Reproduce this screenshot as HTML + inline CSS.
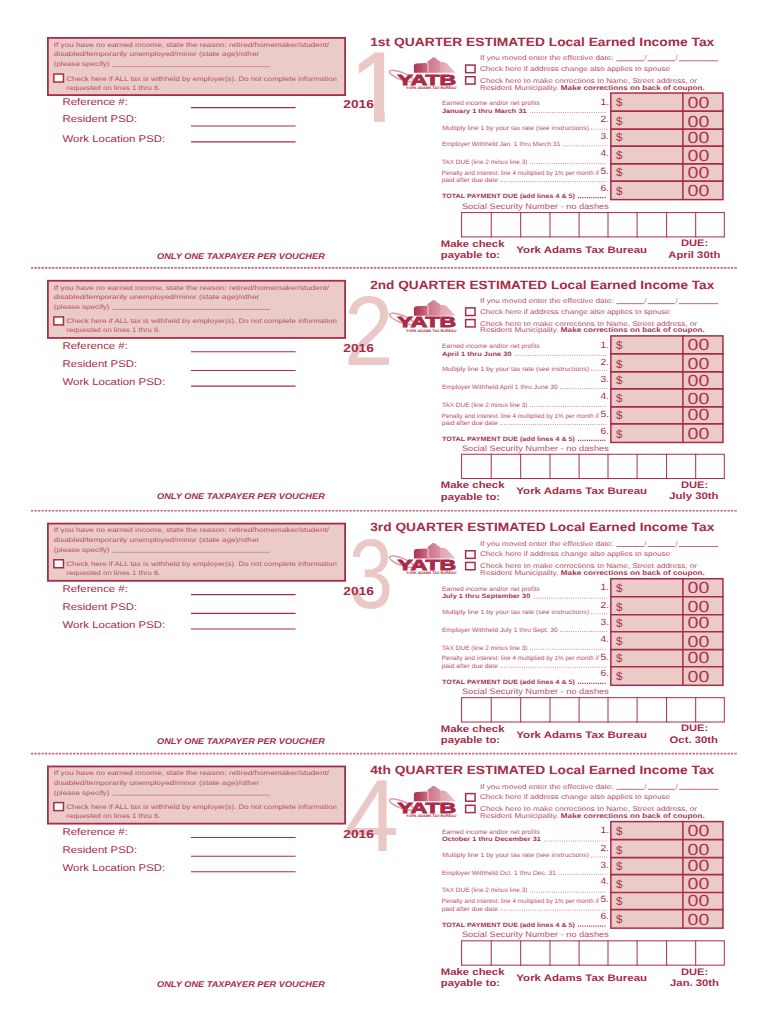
<!DOCTYPE html>
<html><head><meta charset="utf-8"><title>York Adams Tax Bureau - Quarterly Estimated Vouchers</title>
<style>
html,body{margin:0;padding:0;background:#fff;}
body{width:770px;height:1024px;overflow:hidden;}
svg{display:block;text-rendering:geometricPrecision;}
</style></head><body>
<svg width="770" height="1024" viewBox="0 0 770 1024" font-family="'Liberation Sans', Arial, sans-serif" fill="#a92b48">
<defs>
<linearGradient id="lg1" x1="0" x2="1" y1="0" y2="0"><stop offset="0" stop-color="#ad3452"/><stop offset="0.45" stop-color="#b84a66"/><stop offset="1" stop-color="#cd788c"/></linearGradient>
<linearGradient id="lg2" x1="0" x2="1" y1="0" y2="0"><stop offset="0" stop-color="#cc7288"/><stop offset="1" stop-color="#d9939f"/></linearGradient>
<linearGradient id="lg3" x1="0" x2="1" y1="0" y2="0"><stop offset="0" stop-color="#dfa3b0"/><stop offset="1" stop-color="#ebc0c8"/></linearGradient>
<clipPath id="clip1"><path d="M330 40 H400 V112.4 H384.75 V125 H374.05 V112.4 H330 Z"/></clipPath></defs>
<g transform="translate(0 0.00)">
<text x="350.1" y="121.15" font-size="98.5" fill="#e9c8c6" stroke="#e9c8c6" stroke-width="1.3" clip-path="url(#clip1)">1</text>
<rect x="47.90" y="37.90" width="297.20" height="57.20" fill="#eacbc8" stroke="#a92b48" stroke-width="1.8"/>
<text x="53.80" y="46.70" font-size="6.5" fill="#b84d68" textLength="275.20" lengthAdjust="spacingAndGlyphs" >If you have no earned income, state the reason: retired/homemaker/student/</text>
<text x="53.80" y="56.40" font-size="6.5" fill="#b84d68" textLength="205.40" lengthAdjust="spacingAndGlyphs" >disabled/temporarily unemployed/minor (state age)/other</text>
<text x="53.80" y="66.20" font-size="6.5" fill="#b84d68" textLength="55.70" lengthAdjust="spacingAndGlyphs" >(please specify)</text>
<line x1="112.30" y1="66.60" x2="270.00" y2="66.60" stroke="#c06078" stroke-width="0.6" />
<rect x="53.85" y="74.05" width="9.60" height="8.00" fill="#ffffff" stroke="#a92b48" stroke-width="1.5"/>
<text x="66.40" y="80.50" font-size="6.5" fill="#b84d68" textLength="270.50" lengthAdjust="spacingAndGlyphs" >Check here if ALL tax is withheld by employer(s). Do not complete information</text>
<text x="66.40" y="89.60" font-size="6.5" fill="#b84d68" textLength="94.10" lengthAdjust="spacingAndGlyphs" >requested on lines 1 thru 6.</text>
<text x="62.50" y="104.80" font-size="9.8" textLength="65.40" lengthAdjust="spacingAndGlyphs" >Reference #:</text>
<text x="62.50" y="121.60" font-size="9.8" textLength="74.60" lengthAdjust="spacingAndGlyphs" >Resident PSD:</text>
<text x="62.50" y="142.20" font-size="9.8" textLength="102.80" lengthAdjust="spacingAndGlyphs" >Work Location PSD:</text>
<line x1="190.90" y1="107.60" x2="295.60" y2="107.60" stroke="#a92b48" stroke-width="1.1" />
<line x1="190.90" y1="126.00" x2="295.60" y2="126.00" stroke="#a92b48" stroke-width="1.1" />
<line x1="190.90" y1="141.90" x2="295.60" y2="141.90" stroke="#a92b48" stroke-width="1.1" />
<text x="157.00" y="258.80" font-size="8.4" font-weight="bold" font-style="italic" fill="#a92b48" textLength="167.80" lengthAdjust="spacingAndGlyphs" >ONLY ONE TAXPAYER PER VOUCHER</text>
<text x="343.30" y="107.70" font-size="11.6" font-weight="bold" textLength="30.60" lengthAdjust="spacingAndGlyphs" >2016</text>
<text x="370.20" y="45.80" font-size="12" font-weight="bold" textLength="344.10" lengthAdjust="spacingAndGlyphs" >1st QUARTER ESTIMATED Local Earned Income Tax</text>

<g>
 <ellipse cx="401.5" cy="76" rx="12.8" ry="3.6" transform="rotate(21 401.5 76)" fill="none" stroke="#dc9aaa" stroke-width="1.5"/>
 <path d="M413.9 72.8 L413.9 65.2 Q414.2 63.6 416.5 63.4 L425.5 62.9 Q428.6 63.1 428.8 66 L428.8 72.8 Z" fill="url(#lg1)"/>
 <path d="M427.6 72.8 L427.6 61.2 Q430.5 59.8 432.5 57.4 Q435.5 57 437.5 59.8 L440.2 61.2 L440.2 72.8 Z" fill="url(#lg2)"/>
 <path d="M439.8 72.8 L439.8 62.3 Q443.5 61.5 446.5 63.2 L455.6 72.8 Z" fill="url(#lg3)"/>
 <path d="M428.3 72.6 Q427.6 68 428.4 63.4" fill="none" stroke="#fff" stroke-width="0.7"/>
 <text x="397.6" y="84.5" font-size="14.6" font-weight="bold" textLength="58.6" lengthAdjust="spacingAndGlyphs" fill="#a92b48" stroke="#a92b48" stroke-width="0.9">YATB</text>
 <text x="406" y="88.7" font-size="3.5" font-weight="bold" textLength="50.4" lengthAdjust="spacingAndGlyphs" fill="#a92b48">YORK ADAMS TAX BUREAU</text>
</g>

<text x="480.00" y="60.20" font-size="6.8" fill="#b84d68" textLength="133.50" lengthAdjust="spacingAndGlyphs" >If you moved enter the effective date:</text>
<line x1="616.40" y1="60.80" x2="644.30" y2="60.80" stroke="#a92b48" stroke-width="0.7" />
<text x="644.60" y="60.40" font-size="6.8" fill="#b84d68" >/</text>
<line x1="647.60" y1="60.80" x2="675.20" y2="60.80" stroke="#a92b48" stroke-width="0.7" />
<text x="675.70" y="60.40" font-size="6.8" fill="#b84d68" >/</text>
<line x1="679.00" y1="60.80" x2="718.20" y2="60.80" stroke="#a92b48" stroke-width="0.7" />
<rect x="465.65" y="65.05" width="9.40" height="7.60" fill="none" stroke="#a92b48" stroke-width="1.5"/>
<text x="480.00" y="70.80" font-size="6.8" fill="#b84d68" textLength="190.10" lengthAdjust="spacingAndGlyphs" >Check here if address change also applies to spouse</text>
<rect x="465.65" y="76.75" width="9.40" height="7.30" fill="none" stroke="#a92b48" stroke-width="1.5"/>
<text x="480.00" y="82.70" font-size="6.8" fill="#b84d68" textLength="217.10" lengthAdjust="spacingAndGlyphs" >Check here to make corrections to Name, Street address, or</text>
<text x="480.00" y="89.60" font-size="6.8" fill="#b84d68" textLength="224.70" lengthAdjust="spacingAndGlyphs" >Resident Municipality. <tspan font-weight="bold" fill="#a83350">Make corrections on back of coupon.</tspan></text>
<text x="441.90" y="105.00" font-size="6.3" fill="#b84d68" textLength="98.00" lengthAdjust="spacingAndGlyphs" >Earned income and/or net profits</text>
<text x="441.90" y="112.80" font-size="6.3" font-weight="bold" fill="#a83350" textLength="84.70" lengthAdjust="spacingAndGlyphs" >January 1 thru March 31</text>
<line x1="530.10" y1="112.50" x2="607.00" y2="112.50" stroke="#a92b48" stroke-width="0.8" stroke-dasharray="0.8 1.4" opacity="0.8"/>
<text x="442.20" y="129.60" font-size="6.3" fill="#b84d68" textLength="146.80" lengthAdjust="spacingAndGlyphs" >Multiply line 1 by your tax rate (see instructions)</text>
<line x1="591.00" y1="129.20" x2="608.00" y2="129.20" stroke="#a92b48" stroke-width="0.8" stroke-dasharray="0.8 1.4" opacity="0.8"/>
<text x="441.90" y="146.30" font-size="6.3" fill="#b84d68" textLength="118.50" lengthAdjust="spacingAndGlyphs" >Employer Withheld Jan. 1 thru March 31</text>
<line x1="563.00" y1="145.80" x2="607.40" y2="145.80" stroke="#a92b48" stroke-width="0.8" stroke-dasharray="0.8 1.4" opacity="0.8"/>
<text x="441.90" y="163.90" font-size="6.3" fill="#b84d68" textLength="85.50" lengthAdjust="spacingAndGlyphs" >TAX DUE (line 2 minus line 3)</text>
<line x1="530.00" y1="163.60" x2="606.60" y2="163.60" stroke="#a92b48" stroke-width="0.8" stroke-dasharray="0.8 1.4" opacity="0.8"/>
<text x="441.70" y="174.70" font-size="6.3" fill="#b84d68" textLength="157.10" lengthAdjust="spacingAndGlyphs" >Penalty and interest: line 4 multiplied by 1% per month if</text>
<text x="441.70" y="182.20" font-size="6.3" fill="#b84d68" textLength="56.30" lengthAdjust="spacingAndGlyphs" >paid after due date</text>
<line x1="500.00" y1="181.60" x2="607.00" y2="181.60" stroke="#a92b48" stroke-width="0.8" stroke-dasharray="0.8 1.4" opacity="0.8"/>
<text x="441.90" y="198.00" font-size="6.3" font-weight="bold" fill="#a83350" textLength="133.10" lengthAdjust="spacingAndGlyphs" >TOTAL PAYMENT DUE (add lines 4 &amp; 5)</text>
<line x1="578.00" y1="197.60" x2="606.60" y2="197.60" stroke="#a92b48" stroke-width="1.3" stroke-dasharray="1.1 1.1"/>
<text x="600.60" y="104.80" font-size="9.0" textLength="8.60" lengthAdjust="spacingAndGlyphs" >1.</text>
<text x="600.60" y="122.00" font-size="9.0" textLength="8.60" lengthAdjust="spacingAndGlyphs" >2.</text>
<text x="600.60" y="139.10" font-size="9.0" textLength="8.60" lengthAdjust="spacingAndGlyphs" >3.</text>
<text x="600.60" y="155.90" font-size="9.0" textLength="8.60" lengthAdjust="spacingAndGlyphs" >4.</text>
<text x="600.60" y="173.90" font-size="9.0" textLength="8.60" lengthAdjust="spacingAndGlyphs" >5.</text>
<text x="600.60" y="190.80" font-size="9.0" textLength="8.60" lengthAdjust="spacingAndGlyphs" >6.</text>
<rect x="610.85" y="93.05" width="112.10" height="106.30" fill="#eacbc8"/>
<line x1="610.10" y1="111.05" x2="723.70" y2="111.05" stroke="#a92b48" stroke-width="1.7" />
<line x1="610.10" y1="129.05" x2="723.70" y2="129.05" stroke="#a92b48" stroke-width="1.7" />
<line x1="610.10" y1="146.05" x2="723.70" y2="146.05" stroke="#a92b48" stroke-width="1.7" />
<line x1="610.10" y1="163.95" x2="723.70" y2="163.95" stroke="#a92b48" stroke-width="1.7" />
<line x1="610.10" y1="181.05" x2="723.70" y2="181.05" stroke="#a92b48" stroke-width="1.7" />
<rect x="610.85" y="93.05" width="112.10" height="106.55" fill="none" stroke="#a92b48" stroke-width="1.5"/>
<line x1="682.90" y1="92.30" x2="682.90" y2="200.30" stroke="#a92b48" stroke-width="1.5" />
<text x="616.00" y="106.00" font-size="11.4" fill="#ad3450" textLength="6.60" lengthAdjust="spacingAndGlyphs" >$</text>
<text x="687.60" y="107.50" font-size="16" fill="#ad3450" textLength="21.80" lengthAdjust="spacingAndGlyphs" >00</text>
<text x="616.00" y="125.00" font-size="11.4" fill="#ad3450" textLength="6.60" lengthAdjust="spacingAndGlyphs" >$</text>
<text x="687.60" y="126.50" font-size="16" fill="#ad3450" textLength="21.80" lengthAdjust="spacingAndGlyphs" >00</text>
<text x="616.00" y="141.30" font-size="11.4" fill="#ad3450" textLength="6.60" lengthAdjust="spacingAndGlyphs" >$</text>
<text x="687.60" y="142.80" font-size="16" fill="#ad3450" textLength="21.80" lengthAdjust="spacingAndGlyphs" >00</text>
<text x="616.00" y="159.40" font-size="11.4" fill="#ad3450" textLength="6.60" lengthAdjust="spacingAndGlyphs" >$</text>
<text x="687.60" y="160.90" font-size="16" fill="#ad3450" textLength="21.80" lengthAdjust="spacingAndGlyphs" >00</text>
<text x="616.00" y="176.00" font-size="11.4" fill="#ad3450" textLength="6.60" lengthAdjust="spacingAndGlyphs" >$</text>
<text x="687.60" y="177.50" font-size="16" fill="#ad3450" textLength="21.80" lengthAdjust="spacingAndGlyphs" >00</text>
<text x="616.00" y="194.70" font-size="11.4" fill="#ad3450" textLength="6.60" lengthAdjust="spacingAndGlyphs" >$</text>
<text x="687.60" y="196.20" font-size="16" fill="#ad3450" textLength="21.80" lengthAdjust="spacingAndGlyphs" >00</text>
<g transform="translate(0 0)">
<text x="461.90" y="209.20" font-size="8" fill="#b84d68" textLength="146.90" lengthAdjust="spacingAndGlyphs" >Social Security Number - no dashes</text>
<line x1="461.60" y1="212.60" x2="724.30" y2="212.60" stroke="#a92b48" stroke-width="1" />
<line x1="461.60" y1="236.90" x2="724.30" y2="236.90" stroke="#a92b48" stroke-width="1" />
<line x1="461.60" y1="212.10" x2="461.60" y2="237.40" stroke="#a92b48" stroke-width="1" />
<line x1="491.20" y1="212.10" x2="491.20" y2="237.40" stroke="#a92b48" stroke-width="1" />
<line x1="520.70" y1="212.10" x2="520.70" y2="237.40" stroke="#a92b48" stroke-width="1" />
<line x1="550.00" y1="212.10" x2="550.00" y2="237.40" stroke="#a92b48" stroke-width="1" />
<line x1="579.10" y1="212.10" x2="579.10" y2="237.40" stroke="#a92b48" stroke-width="1" />
<line x1="608.00" y1="212.10" x2="608.00" y2="237.40" stroke="#a92b48" stroke-width="1" />
<line x1="637.10" y1="212.10" x2="637.10" y2="237.40" stroke="#a92b48" stroke-width="1" />
<line x1="666.60" y1="212.10" x2="666.60" y2="237.40" stroke="#a92b48" stroke-width="1" />
<line x1="695.70" y1="212.10" x2="695.70" y2="237.40" stroke="#a92b48" stroke-width="1" />
<line x1="724.30" y1="212.10" x2="724.30" y2="237.40" stroke="#a92b48" stroke-width="1" />
<text x="440.80" y="246.50" font-size="9.5" font-weight="bold" textLength="63.70" lengthAdjust="spacingAndGlyphs" >Make check</text>
<text x="440.80" y="257.90" font-size="9.5" font-weight="bold" textLength="59.20" lengthAdjust="spacingAndGlyphs" >payable to:</text>
<text x="516.30" y="252.70" font-size="9.5" font-weight="bold" textLength="130.80" lengthAdjust="spacingAndGlyphs" >York Adams Tax Bureau</text>
<text x="680.90" y="246.40" font-size="9.5" font-weight="bold" textLength="27.30" lengthAdjust="spacingAndGlyphs" >DUE:</text>
<text x="668.30" y="257.60" font-size="9.5" font-weight="bold" textLength="52.00" lengthAdjust="spacingAndGlyphs" >April 30th</text>
</g>
</g>
<g transform="translate(0 242.85)">
<text transform="matrix(0.898 0 0 1 343.9 0)" x="0" y="121.8" font-size="99" fill="#e9c8c6">2</text>
<rect x="47.90" y="37.90" width="297.20" height="57.20" fill="#eacbc8" stroke="#a92b48" stroke-width="1.8"/>
<text x="53.80" y="46.70" font-size="6.5" fill="#b84d68" textLength="275.20" lengthAdjust="spacingAndGlyphs" >If you have no earned income, state the reason: retired/homemaker/student/</text>
<text x="53.80" y="56.40" font-size="6.5" fill="#b84d68" textLength="205.40" lengthAdjust="spacingAndGlyphs" >disabled/temporarily unemployed/minor (state age)/other</text>
<text x="53.80" y="66.20" font-size="6.5" fill="#b84d68" textLength="55.70" lengthAdjust="spacingAndGlyphs" >(please specify)</text>
<line x1="112.30" y1="66.60" x2="270.00" y2="66.60" stroke="#c06078" stroke-width="0.6" />
<rect x="53.85" y="74.05" width="9.60" height="8.00" fill="#ffffff" stroke="#a92b48" stroke-width="1.5"/>
<text x="66.40" y="80.50" font-size="6.5" fill="#b84d68" textLength="270.50" lengthAdjust="spacingAndGlyphs" >Check here if ALL tax is withheld by employer(s). Do not complete information</text>
<text x="66.40" y="89.60" font-size="6.5" fill="#b84d68" textLength="94.10" lengthAdjust="spacingAndGlyphs" >requested on lines 1 thru 6.</text>
<text x="62.50" y="105.90" font-size="9.8" textLength="65.40" lengthAdjust="spacingAndGlyphs" >Reference #:</text>
<text x="62.50" y="124.60" font-size="9.8" textLength="74.60" lengthAdjust="spacingAndGlyphs" >Resident PSD:</text>
<text x="62.50" y="142.10" font-size="9.8" textLength="102.80" lengthAdjust="spacingAndGlyphs" >Work Location PSD:</text>
<line x1="190.90" y1="108.95" x2="295.60" y2="108.95" stroke="#a92b48" stroke-width="1.1" />
<line x1="190.90" y1="127.65" x2="295.60" y2="127.65" stroke="#a92b48" stroke-width="1.1" />
<line x1="190.90" y1="143.25" x2="295.60" y2="143.25" stroke="#a92b48" stroke-width="1.1" />
<text x="157.00" y="256.60" font-size="8.4" font-weight="bold" font-style="italic" fill="#a92b48" textLength="167.80" lengthAdjust="spacingAndGlyphs" >ONLY ONE TAXPAYER PER VOUCHER</text>
<text x="343.30" y="108.90" font-size="11.6" font-weight="bold" textLength="30.60" lengthAdjust="spacingAndGlyphs" >2016</text>
<text x="370.20" y="45.80" font-size="12" font-weight="bold" textLength="344.10" lengthAdjust="spacingAndGlyphs" >2nd QUARTER ESTIMATED Local Earned Income Tax</text>

<g>
 <ellipse cx="401.5" cy="76" rx="12.8" ry="3.6" transform="rotate(21 401.5 76)" fill="none" stroke="#dc9aaa" stroke-width="1.5"/>
 <path d="M413.9 72.8 L413.9 65.2 Q414.2 63.6 416.5 63.4 L425.5 62.9 Q428.6 63.1 428.8 66 L428.8 72.8 Z" fill="url(#lg1)"/>
 <path d="M427.6 72.8 L427.6 61.2 Q430.5 59.8 432.5 57.4 Q435.5 57 437.5 59.8 L440.2 61.2 L440.2 72.8 Z" fill="url(#lg2)"/>
 <path d="M439.8 72.8 L439.8 62.3 Q443.5 61.5 446.5 63.2 L455.6 72.8 Z" fill="url(#lg3)"/>
 <path d="M428.3 72.6 Q427.6 68 428.4 63.4" fill="none" stroke="#fff" stroke-width="0.7"/>
 <text x="397.6" y="84.5" font-size="14.6" font-weight="bold" textLength="58.6" lengthAdjust="spacingAndGlyphs" fill="#a92b48" stroke="#a92b48" stroke-width="0.9">YATB</text>
 <text x="406" y="88.7" font-size="3.5" font-weight="bold" textLength="50.4" lengthAdjust="spacingAndGlyphs" fill="#a92b48">YORK ADAMS TAX BUREAU</text>
</g>

<text x="480.00" y="60.20" font-size="6.8" fill="#b84d68" textLength="133.50" lengthAdjust="spacingAndGlyphs" >If you moved enter the effective date:</text>
<line x1="616.40" y1="60.80" x2="644.30" y2="60.80" stroke="#a92b48" stroke-width="0.7" />
<text x="644.60" y="60.40" font-size="6.8" fill="#b84d68" >/</text>
<line x1="647.60" y1="60.80" x2="675.20" y2="60.80" stroke="#a92b48" stroke-width="0.7" />
<text x="675.70" y="60.40" font-size="6.8" fill="#b84d68" >/</text>
<line x1="679.00" y1="60.80" x2="718.20" y2="60.80" stroke="#a92b48" stroke-width="0.7" />
<rect x="465.65" y="65.05" width="9.40" height="7.60" fill="none" stroke="#a92b48" stroke-width="1.5"/>
<text x="480.00" y="70.80" font-size="6.8" fill="#b84d68" textLength="190.10" lengthAdjust="spacingAndGlyphs" >Check here if address change also applies to spouse</text>
<rect x="465.65" y="76.75" width="9.40" height="7.30" fill="none" stroke="#a92b48" stroke-width="1.5"/>
<text x="480.00" y="82.70" font-size="6.8" fill="#b84d68" textLength="217.10" lengthAdjust="spacingAndGlyphs" >Check here to make corrections to Name, Street address, or</text>
<text x="480.00" y="89.60" font-size="6.8" fill="#b84d68" textLength="224.70" lengthAdjust="spacingAndGlyphs" >Resident Municipality. <tspan font-weight="bold" fill="#a83350">Make corrections on back of coupon.</tspan></text>
<text x="441.90" y="105.00" font-size="6.3" fill="#b84d68" textLength="98.00" lengthAdjust="spacingAndGlyphs" >Earned income and/or net profits</text>
<text x="441.90" y="112.80" font-size="6.3" font-weight="bold" fill="#a83350" textLength="69.70" lengthAdjust="spacingAndGlyphs" >April 1 thru June 30</text>
<line x1="515.10" y1="112.50" x2="607.00" y2="112.50" stroke="#a92b48" stroke-width="0.8" stroke-dasharray="0.8 1.4" opacity="0.8"/>
<text x="442.20" y="127.80" font-size="6.3" fill="#b84d68" textLength="146.80" lengthAdjust="spacingAndGlyphs" >Multiply line 1 by your tax rate (see instructions)</text>
<line x1="591.00" y1="127.40" x2="608.00" y2="127.40" stroke="#a92b48" stroke-width="0.8" stroke-dasharray="0.8 1.4" opacity="0.8"/>
<text x="441.90" y="146.30" font-size="6.3" fill="#b84d68" textLength="115.80" lengthAdjust="spacingAndGlyphs" >Employer Withheld April 1 thru June 30</text>
<line x1="560.30" y1="145.80" x2="607.40" y2="145.80" stroke="#a92b48" stroke-width="0.8" stroke-dasharray="0.8 1.4" opacity="0.8"/>
<text x="441.90" y="163.90" font-size="6.3" fill="#b84d68" textLength="85.50" lengthAdjust="spacingAndGlyphs" >TAX DUE (line 2 minus line 3)</text>
<line x1="530.00" y1="163.60" x2="606.60" y2="163.60" stroke="#a92b48" stroke-width="0.8" stroke-dasharray="0.8 1.4" opacity="0.8"/>
<text x="441.70" y="174.70" font-size="6.3" fill="#b84d68" textLength="157.10" lengthAdjust="spacingAndGlyphs" >Penalty and interest: line 4 multiplied by 1% per month if</text>
<text x="441.70" y="182.20" font-size="6.3" fill="#b84d68" textLength="56.30" lengthAdjust="spacingAndGlyphs" >paid after due date</text>
<line x1="500.00" y1="181.60" x2="607.00" y2="181.60" stroke="#a92b48" stroke-width="0.8" stroke-dasharray="0.8 1.4" opacity="0.8"/>
<text x="441.90" y="198.00" font-size="6.3" font-weight="bold" fill="#a83350" textLength="133.10" lengthAdjust="spacingAndGlyphs" >TOTAL PAYMENT DUE (add lines 4 &amp; 5)</text>
<line x1="578.00" y1="197.60" x2="606.60" y2="197.60" stroke="#a92b48" stroke-width="1.3" stroke-dasharray="1.1 1.1"/>
<text x="600.60" y="104.80" font-size="9.0" textLength="8.60" lengthAdjust="spacingAndGlyphs" >1.</text>
<text x="600.60" y="122.00" font-size="9.0" textLength="8.60" lengthAdjust="spacingAndGlyphs" >2.</text>
<text x="600.60" y="139.10" font-size="9.0" textLength="8.60" lengthAdjust="spacingAndGlyphs" >3.</text>
<text x="600.60" y="155.90" font-size="9.0" textLength="8.60" lengthAdjust="spacingAndGlyphs" >4.</text>
<text x="600.60" y="173.90" font-size="9.0" textLength="8.60" lengthAdjust="spacingAndGlyphs" >5.</text>
<text x="600.60" y="190.80" font-size="9.0" textLength="8.60" lengthAdjust="spacingAndGlyphs" >6.</text>
<rect x="610.85" y="93.05" width="112.10" height="106.30" fill="#eacbc8"/>
<line x1="610.10" y1="111.05" x2="723.70" y2="111.05" stroke="#a92b48" stroke-width="1.7" />
<line x1="610.10" y1="129.05" x2="723.70" y2="129.05" stroke="#a92b48" stroke-width="1.7" />
<line x1="610.10" y1="146.05" x2="723.70" y2="146.05" stroke="#a92b48" stroke-width="1.7" />
<line x1="610.10" y1="163.95" x2="723.70" y2="163.95" stroke="#a92b48" stroke-width="1.7" />
<line x1="610.10" y1="181.05" x2="723.70" y2="181.05" stroke="#a92b48" stroke-width="1.7" />
<rect x="610.85" y="93.05" width="112.10" height="106.55" fill="none" stroke="#a92b48" stroke-width="1.5"/>
<line x1="682.90" y1="92.30" x2="682.90" y2="200.30" stroke="#a92b48" stroke-width="1.5" />
<text x="616.00" y="106.00" font-size="11.4" fill="#ad3450" textLength="6.60" lengthAdjust="spacingAndGlyphs" >$</text>
<text x="687.60" y="107.50" font-size="16" fill="#ad3450" textLength="21.80" lengthAdjust="spacingAndGlyphs" >00</text>
<text x="616.00" y="125.00" font-size="11.4" fill="#ad3450" textLength="6.60" lengthAdjust="spacingAndGlyphs" >$</text>
<text x="687.60" y="126.50" font-size="16" fill="#ad3450" textLength="21.80" lengthAdjust="spacingAndGlyphs" >00</text>
<text x="616.00" y="141.30" font-size="11.4" fill="#ad3450" textLength="6.60" lengthAdjust="spacingAndGlyphs" >$</text>
<text x="687.60" y="142.80" font-size="16" fill="#ad3450" textLength="21.80" lengthAdjust="spacingAndGlyphs" >00</text>
<text x="616.00" y="159.40" font-size="11.4" fill="#ad3450" textLength="6.60" lengthAdjust="spacingAndGlyphs" >$</text>
<text x="687.60" y="160.90" font-size="16" fill="#ad3450" textLength="21.80" lengthAdjust="spacingAndGlyphs" >00</text>
<text x="616.00" y="176.00" font-size="11.4" fill="#ad3450" textLength="6.60" lengthAdjust="spacingAndGlyphs" >$</text>
<text x="687.60" y="177.50" font-size="16" fill="#ad3450" textLength="21.80" lengthAdjust="spacingAndGlyphs" >00</text>
<text x="616.00" y="194.70" font-size="11.4" fill="#ad3450" textLength="6.60" lengthAdjust="spacingAndGlyphs" >$</text>
<text x="687.60" y="196.20" font-size="16" fill="#ad3450" textLength="21.80" lengthAdjust="spacingAndGlyphs" >00</text>
<g transform="translate(0 -1.2)">
<text x="461.90" y="209.20" font-size="8" fill="#b84d68" textLength="146.90" lengthAdjust="spacingAndGlyphs" >Social Security Number - no dashes</text>
<line x1="461.60" y1="212.60" x2="724.30" y2="212.60" stroke="#a92b48" stroke-width="1" />
<line x1="461.60" y1="236.90" x2="724.30" y2="236.90" stroke="#a92b48" stroke-width="1" />
<line x1="461.60" y1="212.10" x2="461.60" y2="237.40" stroke="#a92b48" stroke-width="1" />
<line x1="491.20" y1="212.10" x2="491.20" y2="237.40" stroke="#a92b48" stroke-width="1" />
<line x1="520.70" y1="212.10" x2="520.70" y2="237.40" stroke="#a92b48" stroke-width="1" />
<line x1="550.00" y1="212.10" x2="550.00" y2="237.40" stroke="#a92b48" stroke-width="1" />
<line x1="579.10" y1="212.10" x2="579.10" y2="237.40" stroke="#a92b48" stroke-width="1" />
<line x1="608.00" y1="212.10" x2="608.00" y2="237.40" stroke="#a92b48" stroke-width="1" />
<line x1="637.10" y1="212.10" x2="637.10" y2="237.40" stroke="#a92b48" stroke-width="1" />
<line x1="666.60" y1="212.10" x2="666.60" y2="237.40" stroke="#a92b48" stroke-width="1" />
<line x1="695.70" y1="212.10" x2="695.70" y2="237.40" stroke="#a92b48" stroke-width="1" />
<line x1="724.30" y1="212.10" x2="724.30" y2="237.40" stroke="#a92b48" stroke-width="1" />
<text x="440.80" y="246.50" font-size="9.5" font-weight="bold" textLength="63.70" lengthAdjust="spacingAndGlyphs" >Make check</text>
<text x="440.80" y="257.90" font-size="9.5" font-weight="bold" textLength="59.20" lengthAdjust="spacingAndGlyphs" >payable to:</text>
<text x="516.30" y="252.70" font-size="9.5" font-weight="bold" textLength="130.80" lengthAdjust="spacingAndGlyphs" >York Adams Tax Bureau</text>
<text x="680.90" y="246.40" font-size="9.5" font-weight="bold" textLength="27.30" lengthAdjust="spacingAndGlyphs" >DUE:</text>
<text x="669.20" y="257.60" font-size="9.5" font-weight="bold" textLength="49.40" lengthAdjust="spacingAndGlyphs" >July 30th</text>
</g>
</g>
<g transform="translate(0 485.70)">
<text transform="matrix(0.804 0 0 1 348.8 0)" x="0" y="122.2" font-size="99" fill="#e9c8c6">3</text>
<rect x="47.90" y="37.90" width="297.20" height="57.20" fill="#eacbc8" stroke="#a92b48" stroke-width="1.8"/>
<text x="53.80" y="46.70" font-size="6.5" fill="#b84d68" textLength="275.20" lengthAdjust="spacingAndGlyphs" >If you have no earned income, state the reason: retired/homemaker/student/</text>
<text x="53.80" y="56.40" font-size="6.5" fill="#b84d68" textLength="205.40" lengthAdjust="spacingAndGlyphs" >disabled/temporarily unemployed/minor (state age)/other</text>
<text x="53.80" y="66.20" font-size="6.5" fill="#b84d68" textLength="55.70" lengthAdjust="spacingAndGlyphs" >(please specify)</text>
<line x1="112.30" y1="66.60" x2="270.00" y2="66.60" stroke="#c06078" stroke-width="0.6" />
<rect x="53.85" y="74.05" width="9.60" height="8.00" fill="#ffffff" stroke="#a92b48" stroke-width="1.5"/>
<text x="66.40" y="80.50" font-size="6.5" fill="#b84d68" textLength="270.50" lengthAdjust="spacingAndGlyphs" >Check here if ALL tax is withheld by employer(s). Do not complete information</text>
<text x="66.40" y="89.60" font-size="6.5" fill="#b84d68" textLength="94.10" lengthAdjust="spacingAndGlyphs" >requested on lines 1 thru 6.</text>
<text x="62.50" y="106.00" font-size="9.8" textLength="65.40" lengthAdjust="spacingAndGlyphs" >Reference #:</text>
<text x="62.50" y="124.70" font-size="9.8" textLength="74.60" lengthAdjust="spacingAndGlyphs" >Resident PSD:</text>
<text x="62.50" y="142.20" font-size="9.8" textLength="102.80" lengthAdjust="spacingAndGlyphs" >Work Location PSD:</text>
<line x1="190.90" y1="108.95" x2="295.60" y2="108.95" stroke="#a92b48" stroke-width="1.1" />
<line x1="190.90" y1="127.65" x2="295.60" y2="127.65" stroke="#a92b48" stroke-width="1.1" />
<line x1="190.90" y1="143.25" x2="295.60" y2="143.25" stroke="#a92b48" stroke-width="1.1" />
<text x="157.00" y="258.20" font-size="8.4" font-weight="bold" font-style="italic" fill="#a92b48" textLength="167.80" lengthAdjust="spacingAndGlyphs" >ONLY ONE TAXPAYER PER VOUCHER</text>
<text x="343.30" y="109.10" font-size="11.6" font-weight="bold" textLength="30.60" lengthAdjust="spacingAndGlyphs" >2016</text>
<text x="370.20" y="45.80" font-size="12" font-weight="bold" textLength="344.10" lengthAdjust="spacingAndGlyphs" >3rd QUARTER ESTIMATED Local Earned Income Tax</text>

<g>
 <ellipse cx="401.5" cy="76" rx="12.8" ry="3.6" transform="rotate(21 401.5 76)" fill="none" stroke="#dc9aaa" stroke-width="1.5"/>
 <path d="M413.9 72.8 L413.9 65.2 Q414.2 63.6 416.5 63.4 L425.5 62.9 Q428.6 63.1 428.8 66 L428.8 72.8 Z" fill="url(#lg1)"/>
 <path d="M427.6 72.8 L427.6 61.2 Q430.5 59.8 432.5 57.4 Q435.5 57 437.5 59.8 L440.2 61.2 L440.2 72.8 Z" fill="url(#lg2)"/>
 <path d="M439.8 72.8 L439.8 62.3 Q443.5 61.5 446.5 63.2 L455.6 72.8 Z" fill="url(#lg3)"/>
 <path d="M428.3 72.6 Q427.6 68 428.4 63.4" fill="none" stroke="#fff" stroke-width="0.7"/>
 <text x="397.6" y="84.5" font-size="14.6" font-weight="bold" textLength="58.6" lengthAdjust="spacingAndGlyphs" fill="#a92b48" stroke="#a92b48" stroke-width="0.9">YATB</text>
 <text x="406" y="88.7" font-size="3.5" font-weight="bold" textLength="50.4" lengthAdjust="spacingAndGlyphs" fill="#a92b48">YORK ADAMS TAX BUREAU</text>
</g>

<text x="480.00" y="60.20" font-size="6.8" fill="#b84d68" textLength="133.50" lengthAdjust="spacingAndGlyphs" >If you moved enter the effective date:</text>
<line x1="616.40" y1="60.80" x2="644.30" y2="60.80" stroke="#a92b48" stroke-width="0.7" />
<text x="644.60" y="60.40" font-size="6.8" fill="#b84d68" >/</text>
<line x1="647.60" y1="60.80" x2="675.20" y2="60.80" stroke="#a92b48" stroke-width="0.7" />
<text x="675.70" y="60.40" font-size="6.8" fill="#b84d68" >/</text>
<line x1="679.00" y1="60.80" x2="718.20" y2="60.80" stroke="#a92b48" stroke-width="0.7" />
<rect x="465.65" y="65.05" width="9.40" height="7.60" fill="none" stroke="#a92b48" stroke-width="1.5"/>
<text x="480.00" y="70.80" font-size="6.8" fill="#b84d68" textLength="190.10" lengthAdjust="spacingAndGlyphs" >Check here if address change also applies to spouse</text>
<rect x="465.65" y="76.75" width="9.40" height="7.30" fill="none" stroke="#a92b48" stroke-width="1.5"/>
<text x="480.00" y="82.70" font-size="6.8" fill="#b84d68" textLength="217.10" lengthAdjust="spacingAndGlyphs" >Check here to make corrections to Name, Street address, or</text>
<text x="480.00" y="89.60" font-size="6.8" fill="#b84d68" textLength="224.70" lengthAdjust="spacingAndGlyphs" >Resident Municipality. <tspan font-weight="bold" fill="#a83350">Make corrections on back of coupon.</tspan></text>
<text x="441.90" y="105.00" font-size="6.3" fill="#b84d68" textLength="98.00" lengthAdjust="spacingAndGlyphs" >Earned income and/or net profits</text>
<text x="441.90" y="112.80" font-size="6.3" font-weight="bold" fill="#a83350" textLength="88.40" lengthAdjust="spacingAndGlyphs" >July 1 thru September 30</text>
<line x1="533.80" y1="112.50" x2="607.00" y2="112.50" stroke="#a92b48" stroke-width="0.8" stroke-dasharray="0.8 1.4" opacity="0.8"/>
<text x="442.20" y="128.50" font-size="6.3" fill="#b84d68" textLength="146.80" lengthAdjust="spacingAndGlyphs" >Multiply line 1 by your tax rate (see instructions)</text>
<line x1="591.00" y1="128.10" x2="608.00" y2="128.10" stroke="#a92b48" stroke-width="0.8" stroke-dasharray="0.8 1.4" opacity="0.8"/>
<text x="441.90" y="146.30" font-size="6.3" fill="#b84d68" textLength="115.80" lengthAdjust="spacingAndGlyphs" >Employer Withheld July 1 thru Sept. 30</text>
<line x1="560.30" y1="145.80" x2="607.40" y2="145.80" stroke="#a92b48" stroke-width="0.8" stroke-dasharray="0.8 1.4" opacity="0.8"/>
<text x="441.90" y="163.90" font-size="6.3" fill="#b84d68" textLength="85.50" lengthAdjust="spacingAndGlyphs" >TAX DUE (line 2 minus line 3)</text>
<line x1="530.00" y1="163.60" x2="606.60" y2="163.60" stroke="#a92b48" stroke-width="0.8" stroke-dasharray="0.8 1.4" opacity="0.8"/>
<text x="441.70" y="174.70" font-size="6.3" fill="#b84d68" textLength="157.10" lengthAdjust="spacingAndGlyphs" >Penalty and interest: line 4 multiplied by 1% per month if</text>
<text x="441.70" y="182.20" font-size="6.3" fill="#b84d68" textLength="56.30" lengthAdjust="spacingAndGlyphs" >paid after due date</text>
<line x1="500.00" y1="181.60" x2="607.00" y2="181.60" stroke="#a92b48" stroke-width="0.8" stroke-dasharray="0.8 1.4" opacity="0.8"/>
<text x="441.90" y="198.00" font-size="6.3" font-weight="bold" fill="#a83350" textLength="133.10" lengthAdjust="spacingAndGlyphs" >TOTAL PAYMENT DUE (add lines 4 &amp; 5)</text>
<line x1="578.00" y1="197.60" x2="606.60" y2="197.60" stroke="#a92b48" stroke-width="1.3" stroke-dasharray="1.1 1.1"/>
<text x="600.60" y="104.80" font-size="9.0" textLength="8.60" lengthAdjust="spacingAndGlyphs" >1.</text>
<text x="600.60" y="122.00" font-size="9.0" textLength="8.60" lengthAdjust="spacingAndGlyphs" >2.</text>
<text x="600.60" y="139.10" font-size="9.0" textLength="8.60" lengthAdjust="spacingAndGlyphs" >3.</text>
<text x="600.60" y="155.90" font-size="9.0" textLength="8.60" lengthAdjust="spacingAndGlyphs" >4.</text>
<text x="600.60" y="173.90" font-size="9.0" textLength="8.60" lengthAdjust="spacingAndGlyphs" >5.</text>
<text x="600.60" y="190.80" font-size="9.0" textLength="8.60" lengthAdjust="spacingAndGlyphs" >6.</text>
<rect x="610.85" y="93.05" width="112.10" height="106.30" fill="#eacbc8"/>
<line x1="610.10" y1="111.05" x2="723.70" y2="111.05" stroke="#a92b48" stroke-width="1.7" />
<line x1="610.10" y1="129.05" x2="723.70" y2="129.05" stroke="#a92b48" stroke-width="1.7" />
<line x1="610.10" y1="146.05" x2="723.70" y2="146.05" stroke="#a92b48" stroke-width="1.7" />
<line x1="610.10" y1="163.95" x2="723.70" y2="163.95" stroke="#a92b48" stroke-width="1.7" />
<line x1="610.10" y1="181.05" x2="723.70" y2="181.05" stroke="#a92b48" stroke-width="1.7" />
<rect x="610.85" y="93.05" width="112.10" height="106.55" fill="none" stroke="#a92b48" stroke-width="1.5"/>
<line x1="682.90" y1="92.30" x2="682.90" y2="200.30" stroke="#a92b48" stroke-width="1.5" />
<text x="616.00" y="106.00" font-size="11.4" fill="#ad3450" textLength="6.60" lengthAdjust="spacingAndGlyphs" >$</text>
<text x="687.60" y="107.50" font-size="16" fill="#ad3450" textLength="21.80" lengthAdjust="spacingAndGlyphs" >00</text>
<text x="616.00" y="125.00" font-size="11.4" fill="#ad3450" textLength="6.60" lengthAdjust="spacingAndGlyphs" >$</text>
<text x="687.60" y="126.50" font-size="16" fill="#ad3450" textLength="21.80" lengthAdjust="spacingAndGlyphs" >00</text>
<text x="616.00" y="141.30" font-size="11.4" fill="#ad3450" textLength="6.60" lengthAdjust="spacingAndGlyphs" >$</text>
<text x="687.60" y="142.80" font-size="16" fill="#ad3450" textLength="21.80" lengthAdjust="spacingAndGlyphs" >00</text>
<text x="616.00" y="159.40" font-size="11.4" fill="#ad3450" textLength="6.60" lengthAdjust="spacingAndGlyphs" >$</text>
<text x="687.60" y="160.90" font-size="16" fill="#ad3450" textLength="21.80" lengthAdjust="spacingAndGlyphs" >00</text>
<text x="616.00" y="176.00" font-size="11.4" fill="#ad3450" textLength="6.60" lengthAdjust="spacingAndGlyphs" >$</text>
<text x="687.60" y="177.50" font-size="16" fill="#ad3450" textLength="21.80" lengthAdjust="spacingAndGlyphs" >00</text>
<text x="616.00" y="194.70" font-size="11.4" fill="#ad3450" textLength="6.60" lengthAdjust="spacingAndGlyphs" >$</text>
<text x="687.60" y="196.20" font-size="16" fill="#ad3450" textLength="21.80" lengthAdjust="spacingAndGlyphs" >00</text>
<g transform="translate(0 -0.6)">
<text x="461.90" y="209.20" font-size="8" fill="#b84d68" textLength="146.90" lengthAdjust="spacingAndGlyphs" >Social Security Number - no dashes</text>
<line x1="461.60" y1="212.60" x2="724.30" y2="212.60" stroke="#a92b48" stroke-width="1" />
<line x1="461.60" y1="236.90" x2="724.30" y2="236.90" stroke="#a92b48" stroke-width="1" />
<line x1="461.60" y1="212.10" x2="461.60" y2="237.40" stroke="#a92b48" stroke-width="1" />
<line x1="491.20" y1="212.10" x2="491.20" y2="237.40" stroke="#a92b48" stroke-width="1" />
<line x1="520.70" y1="212.10" x2="520.70" y2="237.40" stroke="#a92b48" stroke-width="1" />
<line x1="550.00" y1="212.10" x2="550.00" y2="237.40" stroke="#a92b48" stroke-width="1" />
<line x1="579.10" y1="212.10" x2="579.10" y2="237.40" stroke="#a92b48" stroke-width="1" />
<line x1="608.00" y1="212.10" x2="608.00" y2="237.40" stroke="#a92b48" stroke-width="1" />
<line x1="637.10" y1="212.10" x2="637.10" y2="237.40" stroke="#a92b48" stroke-width="1" />
<line x1="666.60" y1="212.10" x2="666.60" y2="237.40" stroke="#a92b48" stroke-width="1" />
<line x1="695.70" y1="212.10" x2="695.70" y2="237.40" stroke="#a92b48" stroke-width="1" />
<line x1="724.30" y1="212.10" x2="724.30" y2="237.40" stroke="#a92b48" stroke-width="1" />
<text x="440.80" y="246.50" font-size="9.5" font-weight="bold" textLength="63.70" lengthAdjust="spacingAndGlyphs" >Make check</text>
<text x="440.80" y="257.90" font-size="9.5" font-weight="bold" textLength="59.20" lengthAdjust="spacingAndGlyphs" >payable to:</text>
<text x="516.30" y="252.70" font-size="9.5" font-weight="bold" textLength="130.80" lengthAdjust="spacingAndGlyphs" >York Adams Tax Bureau</text>
<text x="680.90" y="246.40" font-size="9.5" font-weight="bold" textLength="27.30" lengthAdjust="spacingAndGlyphs" >DUE:</text>
<text x="669.60" y="257.60" font-size="9.5" font-weight="bold" textLength="48.30" lengthAdjust="spacingAndGlyphs" >Oct. 30th</text>
</g>
</g>
<g transform="translate(0 728.55)">
<text transform="matrix(0.948 0 0 1 344.8 0)" x="0" y="122.1" font-size="102.4" fill="#e9c8c6">4</text>
<rect x="47.90" y="37.90" width="297.20" height="57.20" fill="#eacbc8" stroke="#a92b48" stroke-width="1.8"/>
<text x="53.80" y="46.70" font-size="6.5" fill="#b84d68" textLength="275.20" lengthAdjust="spacingAndGlyphs" >If you have no earned income, state the reason: retired/homemaker/student/</text>
<text x="53.80" y="56.40" font-size="6.5" fill="#b84d68" textLength="205.40" lengthAdjust="spacingAndGlyphs" >disabled/temporarily unemployed/minor (state age)/other</text>
<text x="53.80" y="66.20" font-size="6.5" fill="#b84d68" textLength="55.70" lengthAdjust="spacingAndGlyphs" >(please specify)</text>
<line x1="112.30" y1="66.60" x2="270.00" y2="66.60" stroke="#c06078" stroke-width="0.6" />
<rect x="53.85" y="74.05" width="9.60" height="8.00" fill="#ffffff" stroke="#a92b48" stroke-width="1.5"/>
<text x="66.40" y="80.50" font-size="6.5" fill="#b84d68" textLength="270.50" lengthAdjust="spacingAndGlyphs" >Check here if ALL tax is withheld by employer(s). Do not complete information</text>
<text x="66.40" y="89.60" font-size="6.5" fill="#b84d68" textLength="94.10" lengthAdjust="spacingAndGlyphs" >requested on lines 1 thru 6.</text>
<text x="62.50" y="106.10" font-size="9.8" textLength="65.40" lengthAdjust="spacingAndGlyphs" >Reference #:</text>
<text x="62.50" y="124.80" font-size="9.8" textLength="74.60" lengthAdjust="spacingAndGlyphs" >Resident PSD:</text>
<text x="62.50" y="142.30" font-size="9.8" textLength="102.80" lengthAdjust="spacingAndGlyphs" >Work Location PSD:</text>
<line x1="190.90" y1="108.95" x2="295.60" y2="108.95" stroke="#a92b48" stroke-width="1.1" />
<line x1="190.90" y1="127.65" x2="295.60" y2="127.65" stroke="#a92b48" stroke-width="1.1" />
<line x1="190.90" y1="143.25" x2="295.60" y2="143.25" stroke="#a92b48" stroke-width="1.1" />
<text x="157.00" y="258.60" font-size="8.4" font-weight="bold" font-style="italic" fill="#a92b48" textLength="167.80" lengthAdjust="spacingAndGlyphs" >ONLY ONE TAXPAYER PER VOUCHER</text>
<text x="343.30" y="109.10" font-size="11.6" font-weight="bold" textLength="30.60" lengthAdjust="spacingAndGlyphs" >2016</text>
<text x="370.20" y="45.80" font-size="12" font-weight="bold" textLength="344.10" lengthAdjust="spacingAndGlyphs" >4th QUARTER ESTIMATED Local Earned Income Tax</text>

<g>
 <ellipse cx="401.5" cy="76" rx="12.8" ry="3.6" transform="rotate(21 401.5 76)" fill="none" stroke="#dc9aaa" stroke-width="1.5"/>
 <path d="M413.9 72.8 L413.9 65.2 Q414.2 63.6 416.5 63.4 L425.5 62.9 Q428.6 63.1 428.8 66 L428.8 72.8 Z" fill="url(#lg1)"/>
 <path d="M427.6 72.8 L427.6 61.2 Q430.5 59.8 432.5 57.4 Q435.5 57 437.5 59.8 L440.2 61.2 L440.2 72.8 Z" fill="url(#lg2)"/>
 <path d="M439.8 72.8 L439.8 62.3 Q443.5 61.5 446.5 63.2 L455.6 72.8 Z" fill="url(#lg3)"/>
 <path d="M428.3 72.6 Q427.6 68 428.4 63.4" fill="none" stroke="#fff" stroke-width="0.7"/>
 <text x="397.6" y="84.5" font-size="14.6" font-weight="bold" textLength="58.6" lengthAdjust="spacingAndGlyphs" fill="#a92b48" stroke="#a92b48" stroke-width="0.9">YATB</text>
 <text x="406" y="88.7" font-size="3.5" font-weight="bold" textLength="50.4" lengthAdjust="spacingAndGlyphs" fill="#a92b48">YORK ADAMS TAX BUREAU</text>
</g>

<text x="480.00" y="60.20" font-size="6.8" fill="#b84d68" textLength="133.50" lengthAdjust="spacingAndGlyphs" >If you moved enter the effective date:</text>
<line x1="616.40" y1="60.80" x2="644.30" y2="60.80" stroke="#a92b48" stroke-width="0.7" />
<text x="644.60" y="60.40" font-size="6.8" fill="#b84d68" >/</text>
<line x1="647.60" y1="60.80" x2="675.20" y2="60.80" stroke="#a92b48" stroke-width="0.7" />
<text x="675.70" y="60.40" font-size="6.8" fill="#b84d68" >/</text>
<line x1="679.00" y1="60.80" x2="718.20" y2="60.80" stroke="#a92b48" stroke-width="0.7" />
<rect x="465.65" y="65.05" width="9.40" height="7.60" fill="none" stroke="#a92b48" stroke-width="1.5"/>
<text x="480.00" y="70.80" font-size="6.8" fill="#b84d68" textLength="190.10" lengthAdjust="spacingAndGlyphs" >Check here if address change also applies to spouse</text>
<rect x="465.65" y="76.75" width="9.40" height="7.30" fill="none" stroke="#a92b48" stroke-width="1.5"/>
<text x="480.00" y="82.70" font-size="6.8" fill="#b84d68" textLength="217.10" lengthAdjust="spacingAndGlyphs" >Check here to make corrections to Name, Street address, or</text>
<text x="480.00" y="89.60" font-size="6.8" fill="#b84d68" textLength="224.70" lengthAdjust="spacingAndGlyphs" >Resident Municipality. <tspan font-weight="bold" fill="#a83350">Make corrections on back of coupon.</tspan></text>
<text x="441.90" y="105.00" font-size="6.3" fill="#b84d68" textLength="98.00" lengthAdjust="spacingAndGlyphs" >Earned income and/or net profits</text>
<text x="441.90" y="112.80" font-size="6.3" font-weight="bold" fill="#a83350" textLength="99.00" lengthAdjust="spacingAndGlyphs" >October 1 thru December 31</text>
<line x1="544.40" y1="112.50" x2="607.00" y2="112.50" stroke="#a92b48" stroke-width="0.8" stroke-dasharray="0.8 1.4" opacity="0.8"/>
<text x="442.20" y="128.90" font-size="6.3" fill="#b84d68" textLength="146.80" lengthAdjust="spacingAndGlyphs" >Multiply line 1 by your tax rate (see instructions)</text>
<line x1="591.00" y1="128.50" x2="608.00" y2="128.50" stroke="#a92b48" stroke-width="0.8" stroke-dasharray="0.8 1.4" opacity="0.8"/>
<text x="441.90" y="146.30" font-size="6.3" fill="#b84d68" textLength="114.10" lengthAdjust="spacingAndGlyphs" >Employer Withheld Oct. 1 thru Dec. 31</text>
<line x1="558.60" y1="145.80" x2="607.40" y2="145.80" stroke="#a92b48" stroke-width="0.8" stroke-dasharray="0.8 1.4" opacity="0.8"/>
<text x="441.90" y="163.90" font-size="6.3" fill="#b84d68" textLength="85.50" lengthAdjust="spacingAndGlyphs" >TAX DUE (line 2 minus line 3)</text>
<line x1="530.00" y1="163.60" x2="606.60" y2="163.60" stroke="#a92b48" stroke-width="0.8" stroke-dasharray="0.8 1.4" opacity="0.8"/>
<text x="441.70" y="174.70" font-size="6.3" fill="#b84d68" textLength="157.10" lengthAdjust="spacingAndGlyphs" >Penalty and interest: line 4 multiplied by 1% per month if</text>
<text x="441.70" y="182.20" font-size="6.3" fill="#b84d68" textLength="56.30" lengthAdjust="spacingAndGlyphs" >paid after due date</text>
<line x1="500.00" y1="181.60" x2="607.00" y2="181.60" stroke="#a92b48" stroke-width="0.8" stroke-dasharray="0.8 1.4" opacity="0.8"/>
<text x="441.90" y="198.00" font-size="6.3" font-weight="bold" fill="#a83350" textLength="133.10" lengthAdjust="spacingAndGlyphs" >TOTAL PAYMENT DUE (add lines 4 &amp; 5)</text>
<line x1="578.00" y1="197.60" x2="606.60" y2="197.60" stroke="#a92b48" stroke-width="1.3" stroke-dasharray="1.1 1.1"/>
<text x="600.60" y="104.80" font-size="9.0" textLength="8.60" lengthAdjust="spacingAndGlyphs" >1.</text>
<text x="600.60" y="122.00" font-size="9.0" textLength="8.60" lengthAdjust="spacingAndGlyphs" >2.</text>
<text x="600.60" y="139.10" font-size="9.0" textLength="8.60" lengthAdjust="spacingAndGlyphs" >3.</text>
<text x="600.60" y="155.90" font-size="9.0" textLength="8.60" lengthAdjust="spacingAndGlyphs" >4.</text>
<text x="600.60" y="173.90" font-size="9.0" textLength="8.60" lengthAdjust="spacingAndGlyphs" >5.</text>
<text x="600.60" y="190.80" font-size="9.0" textLength="8.60" lengthAdjust="spacingAndGlyphs" >6.</text>
<rect x="610.85" y="93.05" width="112.10" height="106.30" fill="#eacbc8"/>
<line x1="610.10" y1="111.05" x2="723.70" y2="111.05" stroke="#a92b48" stroke-width="1.7" />
<line x1="610.10" y1="129.05" x2="723.70" y2="129.05" stroke="#a92b48" stroke-width="1.7" />
<line x1="610.10" y1="146.05" x2="723.70" y2="146.05" stroke="#a92b48" stroke-width="1.7" />
<line x1="610.10" y1="163.95" x2="723.70" y2="163.95" stroke="#a92b48" stroke-width="1.7" />
<line x1="610.10" y1="181.05" x2="723.70" y2="181.05" stroke="#a92b48" stroke-width="1.7" />
<rect x="610.85" y="93.05" width="112.10" height="106.55" fill="none" stroke="#a92b48" stroke-width="1.5"/>
<line x1="682.90" y1="92.30" x2="682.90" y2="200.30" stroke="#a92b48" stroke-width="1.5" />
<text x="616.00" y="106.00" font-size="11.4" fill="#ad3450" textLength="6.60" lengthAdjust="spacingAndGlyphs" >$</text>
<text x="687.60" y="107.50" font-size="16" fill="#ad3450" textLength="21.80" lengthAdjust="spacingAndGlyphs" >00</text>
<text x="616.00" y="125.00" font-size="11.4" fill="#ad3450" textLength="6.60" lengthAdjust="spacingAndGlyphs" >$</text>
<text x="687.60" y="126.50" font-size="16" fill="#ad3450" textLength="21.80" lengthAdjust="spacingAndGlyphs" >00</text>
<text x="616.00" y="141.30" font-size="11.4" fill="#ad3450" textLength="6.60" lengthAdjust="spacingAndGlyphs" >$</text>
<text x="687.60" y="142.80" font-size="16" fill="#ad3450" textLength="21.80" lengthAdjust="spacingAndGlyphs" >00</text>
<text x="616.00" y="159.40" font-size="11.4" fill="#ad3450" textLength="6.60" lengthAdjust="spacingAndGlyphs" >$</text>
<text x="687.60" y="160.90" font-size="16" fill="#ad3450" textLength="21.80" lengthAdjust="spacingAndGlyphs" >00</text>
<text x="616.00" y="176.00" font-size="11.4" fill="#ad3450" textLength="6.60" lengthAdjust="spacingAndGlyphs" >$</text>
<text x="687.60" y="177.50" font-size="16" fill="#ad3450" textLength="21.80" lengthAdjust="spacingAndGlyphs" >00</text>
<text x="616.00" y="194.70" font-size="11.4" fill="#ad3450" textLength="6.60" lengthAdjust="spacingAndGlyphs" >$</text>
<text x="687.60" y="196.20" font-size="16" fill="#ad3450" textLength="21.80" lengthAdjust="spacingAndGlyphs" >00</text>
<g transform="translate(0 -0.3)">
<text x="461.90" y="209.20" font-size="8" fill="#b84d68" textLength="146.90" lengthAdjust="spacingAndGlyphs" >Social Security Number - no dashes</text>
<line x1="461.60" y1="212.60" x2="724.30" y2="212.60" stroke="#a92b48" stroke-width="1" />
<line x1="461.60" y1="236.90" x2="724.30" y2="236.90" stroke="#a92b48" stroke-width="1" />
<line x1="461.60" y1="212.10" x2="461.60" y2="237.40" stroke="#a92b48" stroke-width="1" />
<line x1="491.20" y1="212.10" x2="491.20" y2="237.40" stroke="#a92b48" stroke-width="1" />
<line x1="520.70" y1="212.10" x2="520.70" y2="237.40" stroke="#a92b48" stroke-width="1" />
<line x1="550.00" y1="212.10" x2="550.00" y2="237.40" stroke="#a92b48" stroke-width="1" />
<line x1="579.10" y1="212.10" x2="579.10" y2="237.40" stroke="#a92b48" stroke-width="1" />
<line x1="608.00" y1="212.10" x2="608.00" y2="237.40" stroke="#a92b48" stroke-width="1" />
<line x1="637.10" y1="212.10" x2="637.10" y2="237.40" stroke="#a92b48" stroke-width="1" />
<line x1="666.60" y1="212.10" x2="666.60" y2="237.40" stroke="#a92b48" stroke-width="1" />
<line x1="695.70" y1="212.10" x2="695.70" y2="237.40" stroke="#a92b48" stroke-width="1" />
<line x1="724.30" y1="212.10" x2="724.30" y2="237.40" stroke="#a92b48" stroke-width="1" />
<text x="440.80" y="246.50" font-size="9.5" font-weight="bold" textLength="63.70" lengthAdjust="spacingAndGlyphs" >Make check</text>
<text x="440.80" y="257.90" font-size="9.5" font-weight="bold" textLength="59.20" lengthAdjust="spacingAndGlyphs" >payable to:</text>
<text x="516.30" y="252.70" font-size="9.5" font-weight="bold" textLength="130.80" lengthAdjust="spacingAndGlyphs" >York Adams Tax Bureau</text>
<text x="680.90" y="246.40" font-size="9.5" font-weight="bold" textLength="27.30" lengthAdjust="spacingAndGlyphs" >DUE:</text>
<text x="670.10" y="257.60" font-size="9.5" font-weight="bold" textLength="48.90" lengthAdjust="spacingAndGlyphs" >Jan. 30th</text>
</g>
</g>
<line x1="31.00" y1="267.90" x2="737.30" y2="267.90" stroke="#c8647c" stroke-width="1.6" stroke-dasharray="2.3 1.2"/>
<line x1="31.00" y1="510.75" x2="737.30" y2="510.75" stroke="#c8647c" stroke-width="1.6" stroke-dasharray="2.3 1.2"/>
<line x1="31.00" y1="753.60" x2="737.30" y2="753.60" stroke="#c8647c" stroke-width="1.6" stroke-dasharray="2.3 1.2"/>
</svg>
</body></html>
